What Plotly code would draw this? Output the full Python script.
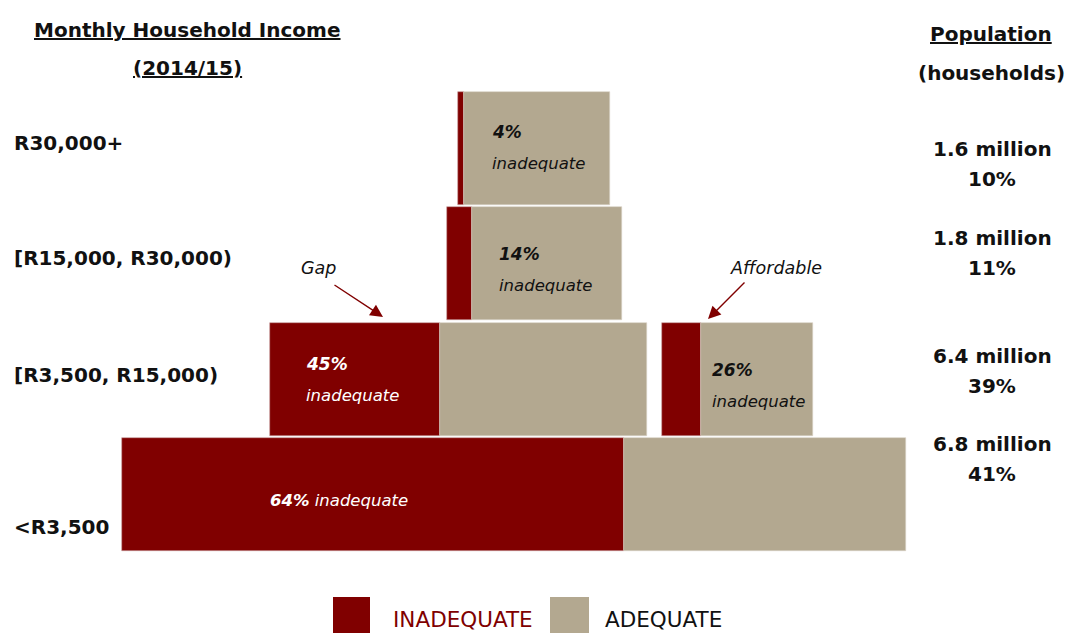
import plotly.graph_objects as go

# ---- data -------------------------------------------------------------
income_bands = ["<R3,500", "[R3,500, R15,000)", "[R15,000, R30,000)", "R30,000+"]
households_mn = [6.8, 6.4, 1.8, 1.6]
household_share = [41, 39, 11, 10]

# each pyramid block: which income band it sits in and its inadequate share (%)
block_band = [0, 1, 1, 2, 3]
block_inadequate = [64, 45, 26, 14, 4]
block_callout = ["", "Gap", "Affordable", "", ""]

# ---- layout geometry (x axis runs in page pixels) ----------------------
block_left = [122, 270, 662, 447, 458]
block_right = [906, 647, 813, 622, 610]

W, H = 1067, 633
TOP, BOTTOM = 91, 81
PLOT_H = H - TOP - BOTTOM
ROW_PX = PLOT_H / len(income_bands)

RED = "#800000"
TAN = "#B3A890"
FONT = "DejaVu Sans"


def py(p):
    """page pixel row -> y-axis value"""
    return len(income_bands) - 0.5 - (p - TOP) / ROW_PX


def pp(p):
    """page pixel row -> paper fraction"""
    return 1 - (p - TOP) / PLOT_H


fig = go.Figure()

red_w = [(r - l) * s / 100 for l, r, s in zip(block_left, block_right, block_inadequate)]
tan_w = [(r - l) - w for l, r, w in zip(block_left, block_right, red_w)]
tan_base = [l + w for l, w in zip(block_left, red_w)]

fig.add_trace(go.Bar(
    orientation="h", y=block_band, x=red_w, base=block_left,
    width=0.982, marker=dict(color=RED, line=dict(color="#c9a0a0", width=0.6)),
    name="INADEQUATE", showlegend=False, hoverinfo="skip",
))
fig.add_trace(go.Bar(
    orientation="h", y=block_band, x=tan_w, base=tan_base,
    width=0.982, marker=dict(color=TAN, line=dict(color="#d8d2c4", width=0.6)),
    name="ADEQUATE", showlegend=False, hoverinfo="skip",
))

ann = []


def text(x, y, s, size, color="#111", anchor="left", **kw):
    ann.append(dict(x=x, y=pp(y), xref="x", yref="paper", text=s, showarrow=False,
                    xanchor=anchor, yanchor="middle",
                    font=dict(family=FONT, size=size, color=color), **kw))


# headers
text(187, 30, "<b><u>Monthly Household Income</u></b>", 20, anchor="center")
text(187, 68, "<b><u>(2014/15)</u></b>", 20, anchor="center")
text(991, 34, "<b><u>Population</u></b>", 20, anchor="center")
text(991, 73, "<b>(households)</b>", 20, anchor="center")

# income band labels
band_label_y = [527, 375, 258, 143]
for band, yy in zip(income_bands, band_label_y):
    text(12, yy, "<b>%s</b>" % band, 20)

# population per band
pop_y = [444, 356, 238, 149]
for mn, sh, yy in zip(households_mn, household_share, pop_y):
    text(992, yy, "<b>%.1f million</b>" % mn, 20, anchor="center")
    text(992, yy + 30, "<b>%d%%</b>" % sh, 20, anchor="center")

# in-bar labels
inbar = {
    1: (304, 364, "white"),
    2: (710, 370, "#111"),
    3: (497, 254, "#111"),
    4: (490, 132, "#111"),
}
for i, (x, yy, col) in inbar.items():
    text(x, yy, "<b><i>%d%%</i></b>" % block_inadequate[i], 17, color=col)
    text(x, yy + 31, "<i>inadequate</i>", 16.5, color=col)
text(339, 500, "<b><i>%d%%</i></b><i> inadequate</i>" % block_inadequate[0], 16.5,
     color="white", anchor="center")

# callouts
text(318, 268, "<i>%s</i>" % block_callout[1], 17.5, anchor="center")
text(776, 268, "<i>%s</i>" % block_callout[2], 17.5, anchor="center")
for (hx, hy, tx, ty) in [(383, 317, 333, 284), (708, 319, 746, 281)]:
    ann.append(dict(x=hx, y=py(hy), ax=tx, ay=py(ty), xref="x", yref="y",
                    axref="x", ayref="y", text="", showarrow=True,
                    arrowhead=2, arrowsize=1.8, arrowwidth=1.4, arrowcolor=RED))

# legend
text(391, 619, "INADEQUATE", 21.5, color=RED)
text(603, 619, "ADEQUATE", 21.5, color="#111")
shapes = [
    dict(type="rect", xref="x", yref="paper", x0=333, x1=370, y0=pp(597), y1=pp(634),
         fillcolor=RED, line=dict(width=0)),
    dict(type="rect", xref="x", yref="paper", x0=550, x1=589, y0=pp(597), y1=pp(634),
         fillcolor=TAN, line=dict(width=0)),
]

fig.update_layout(
    width=W, height=H, margin=dict(l=0, r=0, t=TOP, b=BOTTOM),
    paper_bgcolor="white", plot_bgcolor="white",
    barmode="overlay", bargap=0,
    xaxis=dict(range=[0, W], visible=False, fixedrange=True),
    yaxis=dict(range=[-0.5, len(income_bands) - 0.5], visible=False, fixedrange=True),
    annotations=ann, shapes=shapes,
    showlegend=False,
)

fig.write_html("out.html")
